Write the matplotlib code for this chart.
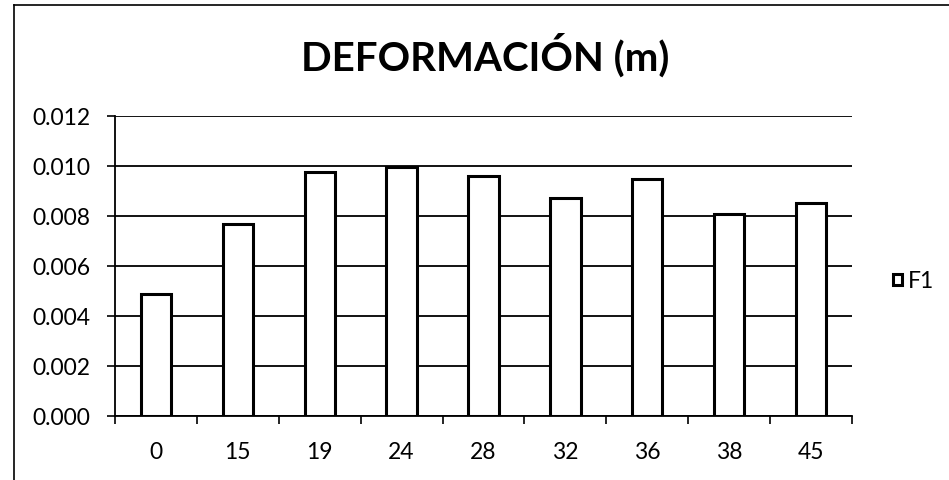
import matplotlib
matplotlib.use("Agg")
import matplotlib.pyplot as plt
from matplotlib.lines import Line2D
from matplotlib.patches import Patch

categories = ["0", "15", "19", "24", "28", "32", "36", "38", "45"]
values = [0.0049, 0.0077, 0.00975, 0.00997, 0.0096, 0.00874, 0.00948, 0.00808, 0.00851]
series_name = "F1"
yticks = [0.000, 0.002, 0.004, 0.006, 0.008, 0.010, 0.012]

plt.rcParams['font.family'] = ['Lato', 'DejaVu Sans']

W, H = 949, 481
fig = plt.figure(figsize=(W / 100, H / 100), dpi=100)
ax = fig.add_axes([115 / W, 1 - 417 / H, (852 - 115) / W, 300 / H])

x = list(range(len(categories)))
ax.bar(x, values, width=0.37, color="white", edgecolor="black", linewidth=2.2, zorder=3)

ax.set_xlim(-0.5, len(categories) - 0.5)
ax.set_ylim(0, 0.012)
ax.set_yticks(yticks)
ax.set_yticklabels([f"{v:.3f}" for v in yticks], fontsize=16.5)
ax.set_xticks(x)
ax.set_xticklabels(categories, fontsize=16.5)
ax.tick_params(axis='x', which='major', length=0, pad=18)
ax.set_xticks([i - 0.5 for i in range(len(categories) + 1)], minor=True)
ax.tick_params(axis='x', which='minor', length=5.8, width=1.2, direction='out', color='black')
ax.tick_params(axis='y', length=5.8, width=1.2, direction='out', pad=12)

ax.yaxis.grid(True, color="black", linewidth=1.3, zorder=0)
ax.set_axisbelow(True)
for s in ["top", "right"]:
    ax.spines[s].set_visible(False)
ax.spines["left"].set_linewidth(1.3)
ax.spines["bottom"].set_linewidth(1.3)

fig.text(485 / W, 1 - 55 / H, "DEFORMACIÓN (m)", ha="center", va="center",
         fontsize=29, fontweight="bold")

handle = Patch(facecolor="white", edgecolor="black", linewidth=2.2)
fig.legend([handle], [series_name], loc="center left", bbox_to_anchor=(893 / W, 1 - 282 / H),
           frameon=False, fontsize=16.5, handlelength=0.4, handleheight=0.4,
           handletextpad=0.25, borderpad=0, borderaxespad=0)

# outer chart frame (left and top edges visible)
fig.add_artist(Line2D([14 / W, 14 / W], [0, 1 - 6 / H], color="black", linewidth=1.2,
                      transform=fig.transFigure))
fig.add_artist(Line2D([14 / W, 1], [1 - 6 / H, 1 - 6 / H], color="black", linewidth=1.2,
                      transform=fig.transFigure))

fig.savefig("out.png", dpi=100, facecolor="white")
